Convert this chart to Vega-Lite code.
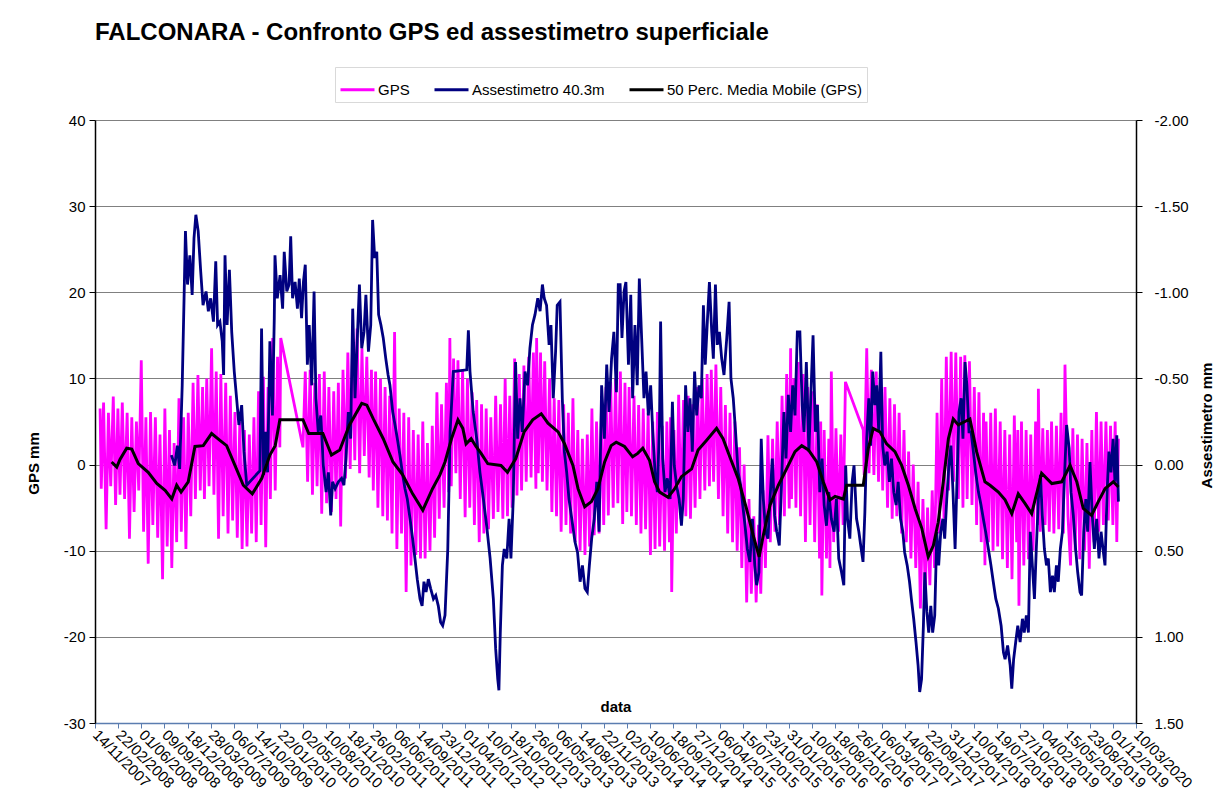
{
"$schema":"https://vega.github.io/schema/vega-lite/v6.json",
"autosize":{"type":"none"},
"width":1041,"height":603,
"padding":{"left":95,"top":120,"right":84,"bottom":82},
"background":"white",
"title":{"text":"FALCONARA  - Confronto GPS ed assestimetro superficiale","anchor":"start","frame":"group","font":"Liberation Sans","fontSize":24,"fontWeight":"bold","color":"#000","offset":22},
"datasets":{
"gps":[
{"d":"2007-12-06","v":6.5},{"d":"2007-12-11","v":-2.8},{"d":"2007-12-21","v":7.2},
{"d":"2008-01-01","v":-7.5},{"d":"2008-01-11","v":6.0},{"d":"2008-01-21","v":-2.5},
{"d":"2008-02-01","v":7.9},{"d":"2008-02-11","v":-4.7},{"d":"2008-02-21","v":6.5},
{"d":"2008-03-01","v":-3.5},{"d":"2008-03-11","v":7.2},{"d":"2008-03-21","v":-4.0},
{"d":"2008-04-01","v":6.0},{"d":"2008-04-11","v":-8.6},{"d":"2008-04-21","v":5.5},
{"d":"2008-05-01","v":-5.5},{"d":"2008-05-11","v":5.0},{"d":"2008-05-21","v":-3.0},
{"d":"2008-06-01","v":12.1},{"d":"2008-06-11","v":-7.8},{"d":"2008-06-21","v":5.5},
{"d":"2008-07-01","v":-11.5},{"d":"2008-07-11","v":6.1},{"d":"2008-07-21","v":-7.0},
{"d":"2008-08-01","v":5.5},{"d":"2008-08-11","v":-8.5},{"d":"2008-08-21","v":3.5},
{"d":"2008-09-01","v":-13.3},{"d":"2008-09-11","v":6.5},{"d":"2008-09-21","v":-9.5},
{"d":"2008-10-01","v":4.0},{"d":"2008-10-11","v":-12.0},{"d":"2008-10-21","v":2.5},
{"d":"2008-11-01","v":-9.0},{"d":"2008-11-11","v":7.7},{"d":"2008-11-21","v":-7.8},
{"d":"2008-12-01","v":5.5},{"d":"2008-12-11","v":-9.8},{"d":"2008-12-21","v":6.0},
{"d":"2009-01-01","v":-6.0},{"d":"2009-01-11","v":9.5},{"d":"2009-01-21","v":-4.0},
{"d":"2009-02-01","v":10.4},{"d":"2009-02-11","v":-3.0},{"d":"2009-02-21","v":9.0},
{"d":"2009-03-01","v":-4.0},{"d":"2009-03-11","v":10.0},{"d":"2009-03-21","v":-2.5},
{"d":"2009-04-01","v":13.5},{"d":"2009-04-11","v":-3.5},{"d":"2009-04-21","v":10.8},
{"d":"2009-05-01","v":-8.6},{"d":"2009-05-11","v":10.5},{"d":"2009-05-21","v":-6.0},
{"d":"2009-06-01","v":9.5},{"d":"2009-06-11","v":-8.0},{"d":"2009-06-21","v":8.0},
{"d":"2009-07-01","v":-6.5},{"d":"2009-07-11","v":6.1},{"d":"2009-07-21","v":-8.5},
{"d":"2009-08-01","v":5.0},{"d":"2009-08-11","v":-9.8},{"d":"2009-08-21","v":4.0},
{"d":"2009-09-01","v":-9.5},{"d":"2009-09-11","v":3.5},{"d":"2009-09-21","v":-8.0},
{"d":"2009-10-01","v":5.5},{"d":"2009-10-11","v":-9.0},{"d":"2009-10-21","v":8.5},
{"d":"2009-11-01","v":-7.0},{"d":"2009-11-11","v":10.2},{"d":"2009-11-21","v":-9.6},
{"d":"2009-12-01","v":9.0},{"d":"2009-12-11","v":-4.0},{"d":"2009-12-21","v":14.7},
{"d":"2010-01-01","v":-3.0},{"d":"2010-01-11","v":12.5},{"d":"2010-01-21","v":2.0},{"d":"2010-01-25","v":14.7},
{"d":"2010-05-01","v":2.0},{"d":"2010-05-11","v":10.8},{"d":"2010-05-21","v":-2.0},
{"d":"2010-06-01","v":11.0},{"d":"2010-06-11","v":-3.5},{"d":"2010-06-21","v":9.5},
{"d":"2010-07-01","v":-2.5},{"d":"2010-07-11","v":10.5},{"d":"2010-07-21","v":-5.7},
{"d":"2010-08-01","v":10.8},{"d":"2010-08-11","v":-4.5},{"d":"2010-08-21","v":9.0},
{"d":"2010-09-01","v":-5.5},{"d":"2010-09-11","v":8.5},{"d":"2010-09-21","v":-4.0},
{"d":"2010-10-01","v":9.5},{"d":"2010-10-11","v":-7.2},{"d":"2010-10-21","v":11.0},
{"d":"2010-11-01","v":-1.6},{"d":"2010-11-11","v":13.0},{"d":"2010-11-21","v":-0.5},
{"d":"2010-12-01","v":13.5},{"d":"2010-12-11","v":0.5},{"d":"2010-12-21","v":15.8},
{"d":"2011-01-01","v":-1.0},{"d":"2011-01-11","v":13.5},{"d":"2011-01-21","v":1.0},
{"d":"2011-02-01","v":12.5},{"d":"2011-02-11","v":-1.5},{"d":"2011-02-21","v":11.0},
{"d":"2011-03-01","v":-3.0},{"d":"2011-03-11","v":10.8},{"d":"2011-03-21","v":-5.0},
{"d":"2011-04-01","v":10.0},{"d":"2011-04-11","v":-6.0},{"d":"2011-04-21","v":9.0},
{"d":"2011-05-01","v":-6.5},{"d":"2011-05-11","v":8.0},{"d":"2011-05-21","v":-8.0},
{"d":"2011-06-01","v":15.4},{"d":"2011-06-11","v":-9.8},{"d":"2011-06-21","v":6.5},
{"d":"2011-07-01","v":-8.0},{"d":"2011-07-11","v":6.0},{"d":"2011-07-21","v":-14.8},
{"d":"2011-08-01","v":5.5},{"d":"2011-08-11","v":-11.7},{"d":"2011-08-21","v":4.0},
{"d":"2011-09-01","v":-10.5},{"d":"2011-09-11","v":3.5},{"d":"2011-09-21","v":-10.9},
{"d":"2011-10-01","v":5.0},{"d":"2011-10-11","v":-10.9},{"d":"2011-10-21","v":2.5},
{"d":"2011-11-01","v":-10.0},{"d":"2011-11-11","v":4.5},{"d":"2011-11-21","v":-8.5},
{"d":"2011-12-01","v":8.4},{"d":"2011-12-11","v":-6.3},{"d":"2011-12-21","v":7.0},
{"d":"2012-01-01","v":-5.0},{"d":"2012-01-11","v":9.5},{"d":"2012-01-21","v":-3.2},{"d":"2012-01-26","v":14.7},
{"d":"2012-02-01","v":-2.5},{"d":"2012-02-11","v":12.3},{"d":"2012-02-21","v":-1.0},
{"d":"2012-03-01","v":12.1},{"d":"2012-03-11","v":-4.0},{"d":"2012-03-21","v":11.0},
{"d":"2012-04-01","v":-6.1},{"d":"2012-04-11","v":10.0},{"d":"2012-04-21","v":-5.0},
{"d":"2012-05-01","v":8.4},{"d":"2012-05-11","v":-7.0},{"d":"2012-05-21","v":7.5},
{"d":"2012-06-01","v":-9.0},{"d":"2012-06-11","v":7.0},{"d":"2012-06-21","v":-8.0},
{"d":"2012-07-01","v":6.5},{"d":"2012-07-11","v":-7.5},{"d":"2012-07-21","v":5.5},
{"d":"2012-08-01","v":-6.3},{"d":"2012-08-11","v":8.0},{"d":"2012-08-21","v":-5.5},
{"d":"2012-09-01","v":7.0},{"d":"2012-09-11","v":-6.3},{"d":"2012-09-21","v":10.0},
{"d":"2012-10-01","v":-6.0},{"d":"2012-10-11","v":8.0},{"d":"2012-10-21","v":-5.0},
{"d":"2012-11-01","v":12.3},{"d":"2012-11-11","v":-3.6},{"d":"2012-11-21","v":10.5},
{"d":"2012-12-01","v":-3.0},{"d":"2012-12-11","v":11.5},{"d":"2012-12-21","v":-2.0},
{"d":"2013-01-01","v":12.5},{"d":"2013-01-11","v":-1.5},{"d":"2013-01-21","v":13.0},
{"d":"2013-02-01","v":-2.8},{"d":"2013-02-04","v":14.7},{"d":"2013-02-11","v":-1.0},{"d":"2013-02-21","v":13.0},
{"d":"2013-03-01","v":-2.0},{"d":"2013-03-11","v":12.0},{"d":"2013-03-21","v":-3.0},
{"d":"2013-04-01","v":10.0},{"d":"2013-04-11","v":-5.5},{"d":"2013-04-21","v":7.7},
{"d":"2013-05-01","v":-6.0},{"d":"2013-05-11","v":7.5},{"d":"2013-05-21","v":-7.8},
{"d":"2013-06-01","v":7.0},{"d":"2013-06-11","v":-7.0},{"d":"2013-06-21","v":6.0},
{"d":"2013-07-01","v":-8.0},{"d":"2013-07-11","v":7.7},{"d":"2013-07-21","v":-9.0},
{"d":"2013-08-01","v":4.0},{"d":"2013-08-11","v":-10.0},{"d":"2013-08-21","v":3.0},
{"d":"2013-09-01","v":-10.5},{"d":"2013-09-11","v":3.5},{"d":"2013-09-21","v":-9.5},
{"d":"2013-10-01","v":6.5},{"d":"2013-10-11","v":-8.2},{"d":"2013-10-21","v":5.0},
{"d":"2013-11-01","v":-8.0},{"d":"2013-11-11","v":6.0},{"d":"2013-11-21","v":-7.0},
{"d":"2013-12-01","v":9.0},{"d":"2013-12-11","v":-5.9},{"d":"2013-12-21","v":9.6},
{"d":"2014-01-01","v":-5.0},{"d":"2014-01-11","v":10.0},{"d":"2014-01-21","v":-4.5},
{"d":"2014-02-01","v":10.8},{"d":"2014-02-11","v":-6.9},{"d":"2014-02-21","v":9.5},
{"d":"2014-03-01","v":-5.5},{"d":"2014-03-11","v":9.0},{"d":"2014-03-21","v":-6.0},
{"d":"2014-04-01","v":8.0},{"d":"2014-04-11","v":-7.0},{"d":"2014-04-21","v":6.9},
{"d":"2014-05-01","v":-8.0},{"d":"2014-05-11","v":6.5},{"d":"2014-05-21","v":-7.5},
{"d":"2014-06-01","v":6.0},{"d":"2014-06-11","v":-10.5},{"d":"2014-06-21","v":5.0},
{"d":"2014-07-01","v":-9.8},{"d":"2014-07-11","v":6.1},{"d":"2014-07-21","v":-9.5},
{"d":"2014-08-01","v":4.5},{"d":"2014-08-11","v":-10.0},{"d":"2014-08-21","v":5.0},
{"d":"2014-09-01","v":-9.0},{"d":"2014-09-06","v":5.5},{"d":"2014-09-11","v":-14.8},{"d":"2014-09-21","v":4.0},
{"d":"2014-10-01","v":-8.0},{"d":"2014-10-11","v":8.1},{"d":"2014-10-21","v":-6.3},
{"d":"2014-11-01","v":7.5},{"d":"2014-11-11","v":-6.0},{"d":"2014-11-21","v":8.0},
{"d":"2014-12-01","v":-6.3},{"d":"2014-12-11","v":7.0},{"d":"2014-12-21","v":-5.0},
{"d":"2015-01-01","v":9.0},{"d":"2015-01-11","v":-4.0},{"d":"2015-01-21","v":10.0},
{"d":"2015-02-01","v":-3.0},{"d":"2015-02-11","v":10.5},{"d":"2015-02-21","v":-2.5},
{"d":"2015-03-01","v":11.0},{"d":"2015-03-11","v":-2.0},{"d":"2015-03-21","v":11.6},
{"d":"2015-04-01","v":-4.0},{"d":"2015-04-11","v":9.0},{"d":"2015-04-21","v":-6.0},
{"d":"2015-05-01","v":6.9},{"d":"2015-05-11","v":-8.0},{"d":"2015-05-21","v":6.0},
{"d":"2015-06-01","v":-9.0},{"d":"2015-06-11","v":5.0},{"d":"2015-06-21","v":-10.0},
{"d":"2015-07-01","v":2.0},{"d":"2015-07-11","v":-12.0},{"d":"2015-07-21","v":0.0},
{"d":"2015-08-01","v":-16.0},{"d":"2015-08-11","v":-4.0},{"d":"2015-08-21","v":-15.0},
{"d":"2015-09-01","v":-6.0},{"d":"2015-09-11","v":-16.0},{"d":"2015-09-21","v":-7.0},
{"d":"2015-10-01","v":-15.0},{"d":"2015-10-11","v":-3.0},{"d":"2015-10-21","v":-12.0},
{"d":"2015-11-01","v":3.4},{"d":"2015-11-11","v":-9.0},{"d":"2015-11-21","v":3.0},
{"d":"2015-12-01","v":-7.8},{"d":"2015-12-11","v":5.0},{"d":"2015-12-21","v":-7.0},
{"d":"2016-01-01","v":8.0},{"d":"2016-01-11","v":-6.0},{"d":"2016-01-21","v":10.5},
{"d":"2016-02-01","v":-5.1},{"d":"2016-02-07","v":13.5},{"d":"2016-02-11","v":-4.0},{"d":"2016-02-21","v":10.0},
{"d":"2016-03-01","v":-5.0},{"d":"2016-03-11","v":11.9},{"d":"2016-03-21","v":-6.0},
{"d":"2016-04-01","v":10.5},{"d":"2016-04-11","v":-9.0},{"d":"2016-04-21","v":9.0},
{"d":"2016-05-01","v":-7.0},{"d":"2016-05-11","v":8.5},{"d":"2016-05-21","v":-9.0},
{"d":"2016-06-01","v":7.0},{"d":"2016-06-11","v":-10.9},{"d":"2016-06-16","v":5.0},{"d":"2016-06-21","v":-15.2},
{"d":"2016-07-01","v":4.0},{"d":"2016-07-11","v":-10.9},{"d":"2016-07-21","v":3.0},{"d":"2016-07-26","v":-12.0},
{"d":"2016-08-01","v":10.8},{"d":"2016-08-11","v":-9.0},{"d":"2016-08-21","v":4.2},
{"d":"2016-09-01","v":-7.8},{"d":"2016-09-11","v":3.5},{"d":"2016-09-21","v":-7.0},
{"d":"2016-10-01","v":9.6},{"d":"2016-12-17","v":4.0},{"d":"2016-12-21","v":-1.2},
{"d":"2017-01-01","v":13.5},{"d":"2017-01-11","v":-1.0},{"d":"2017-01-21","v":11.0},
{"d":"2017-02-01","v":-1.2},{"d":"2017-02-11","v":10.8},{"d":"2017-02-21","v":-2.0},
{"d":"2017-03-01","v":10.0},{"d":"2017-03-11","v":-3.0},{"d":"2017-03-21","v":9.0},
{"d":"2017-04-01","v":-5.0},{"d":"2017-04-11","v":7.7},{"d":"2017-04-21","v":-6.3},
{"d":"2017-05-01","v":7.0},{"d":"2017-05-11","v":-6.0},{"d":"2017-05-21","v":6.0},
{"d":"2017-06-01","v":-8.0},{"d":"2017-06-11","v":4.0},{"d":"2017-06-21","v":-9.0},
{"d":"2017-07-01","v":1.5},{"d":"2017-07-11","v":-10.9},{"d":"2017-07-21","v":0.0},
{"d":"2017-08-01","v":-12.0},{"d":"2017-08-11","v":-2.0},{"d":"2017-08-21","v":-16.7},
{"d":"2017-09-01","v":-4.0},{"d":"2017-09-11","v":-15.0},{"d":"2017-09-21","v":-5.0},
{"d":"2017-10-01","v":-14.0},{"d":"2017-10-11","v":-3.0},{"d":"2017-10-21","v":-12.0},
{"d":"2017-11-01","v":6.0},{"d":"2017-11-11","v":-8.0},{"d":"2017-11-21","v":10.0},
{"d":"2017-12-01","v":-6.3},{"d":"2017-12-11","v":12.5},{"d":"2017-12-21","v":-3.0},
{"d":"2018-01-01","v":13.1},{"d":"2018-01-11","v":-2.0},{"d":"2018-01-21","v":13.0},
{"d":"2018-02-01","v":-4.0},{"d":"2018-02-11","v":12.5},{"d":"2018-02-21","v":-5.0},
{"d":"2018-03-01","v":12.7},{"d":"2018-03-11","v":-4.0},{"d":"2018-03-21","v":12.0},
{"d":"2018-04-01","v":-4.7},{"d":"2018-04-11","v":9.0},{"d":"2018-04-21","v":-7.0},
{"d":"2018-05-01","v":8.4},{"d":"2018-05-11","v":-9.0},{"d":"2018-05-21","v":6.0},{"d":"2018-05-27","v":-11.7},
{"d":"2018-06-01","v":5.0},{"d":"2018-06-11","v":-9.0},{"d":"2018-06-21","v":6.0},
{"d":"2018-07-01","v":-10.0},{"d":"2018-07-11","v":6.5},{"d":"2018-07-21","v":-9.5},
{"d":"2018-08-01","v":5.0},{"d":"2018-08-11","v":-11.0},{"d":"2018-08-21","v":4.0},
{"d":"2018-09-01","v":-12.0},{"d":"2018-09-11","v":3.5},{"d":"2018-09-21","v":-13.3},
{"d":"2018-10-01","v":5.7},{"d":"2018-10-11","v":-9.0},{"d":"2018-10-16","v":4.0},{"d":"2018-10-21","v":-16.4},
{"d":"2018-11-01","v":5.0},{"d":"2018-11-11","v":-11.7},{"d":"2018-11-21","v":4.0},
{"d":"2018-12-01","v":-11.0},{"d":"2018-12-11","v":3.5},{"d":"2018-12-21","v":-10.0},
{"d":"2019-01-01","v":5.0},{"d":"2019-01-11","v":-7.0},{"d":"2019-01-13","v":8.8},{"d":"2019-01-21","v":-7.8},
{"d":"2019-02-01","v":4.2},{"d":"2019-02-11","v":-7.0},{"d":"2019-02-21","v":4.0},
{"d":"2019-03-01","v":-7.8},{"d":"2019-03-11","v":5.0},{"d":"2019-03-21","v":-8.0},
{"d":"2019-04-01","v":4.5},{"d":"2019-04-11","v":-7.5},{"d":"2019-04-21","v":6.0},
{"d":"2019-05-01","v":-8.0},{"d":"2019-05-08","v":11.6},{"d":"2019-05-21","v":-6.0},
{"d":"2019-06-01","v":-11.7},{"d":"2019-06-11","v":4.2},{"d":"2019-06-21","v":-10.0},
{"d":"2019-07-01","v":3.5},{"d":"2019-07-11","v":-11.0},{"d":"2019-07-21","v":3.0},
{"d":"2019-08-01","v":-10.0},{"d":"2019-08-11","v":2.5},{"d":"2019-08-21","v":-12.1},
{"d":"2019-09-01","v":4.0},{"d":"2019-09-11","v":-9.0},{"d":"2019-09-21","v":6.1},
{"d":"2019-10-01","v":-7.8},{"d":"2019-10-11","v":5.0},{"d":"2019-10-21","v":-7.0},
{"d":"2019-11-01","v":5.0},{"d":"2019-11-11","v":-6.5},{"d":"2019-11-21","v":4.5},
{"d":"2019-12-01","v":-7.0},{"d":"2019-12-11","v":5.0},{"d":"2019-12-18","v":-9.0},{"d":"2019-12-25","v":3.0}
],
"ass":[
{"d":"2008-10-09","a":-0.055},{"d":"2008-10-24","a":0.005},{"d":"2008-11-04","a":-0.110},{"d":"2008-11-14","a":0.025},{"d":"2008-11-25","a":-0.460},
{"d":"2008-12-03","a":-0.965},{"d":"2008-12-09","a":-1.355},{"d":"2008-12-18","a":-1.045},{"d":"2008-12-28","a":-1.215},
{"d":"2009-01-07","a":-0.985},{"d":"2009-01-15","a":-1.315},{"d":"2009-01-23","a":-1.450},{"d":"2009-02-02","a":-1.355},{"d":"2009-02-13","a":-1.120},{"d":"2009-02-23","a":-0.925},
{"d":"2009-03-08","a":-1.005},{"d":"2009-03-18","a":-0.890},{"d":"2009-03-28","a":-0.965},{"d":"2009-04-09","a":-0.830},{"d":"2009-04-19","a":-1.180},{"d":"2009-04-27","a":-0.810},
{"d":"2009-05-07","a":-0.830},{"d":"2009-05-17","a":-0.715},{"d":"2009-05-23","a":-0.520},{"d":"2009-05-29","a":-1.215},{"d":"2009-06-07","a":-0.810},{"d":"2009-06-17","a":-1.130},{"d":"2009-06-27","a":-0.770},
{"d":"2009-07-08","a":-0.540},{"d":"2009-07-18","a":-0.385},{"d":"2009-07-28","a":-0.230},{"d":"2009-08-09","a":-0.345},{"d":"2009-08-19","a":-0.075},{"d":"2009-08-31","a":0.120},
{"d":"2009-10-27","a":0.035},{"d":"2009-11-03","a":-0.790},{"d":"2009-11-12","a":0.060},{"d":"2009-11-21","a":-0.190},{"d":"2009-11-29","a":0.045},{"d":"2009-12-09","a":-0.715},{"d":"2009-12-20","a":-0.285},{"d":"2009-12-28","a":-0.850},
{"d":"2009-12-31","a":-1.215},{"d":"2010-01-10","a":-0.965},{"d":"2010-01-22","a":-1.100},{"d":"2010-02-02","a":-0.905},{"d":"2010-02-09","a":-1.235},{"d":"2010-02-20","a":-1.005},
{"d":"2010-03-02","a":-1.045},{"d":"2010-03-09","a":-1.325},{"d":"2010-03-17","a":-0.965},{"d":"2010-03-28","a":-1.060},{"d":"2010-04-07","a":-0.905},{"d":"2010-04-15","a":-1.080},{"d":"2010-04-25","a":-0.850},
{"d":"2010-05-03","a":-1.060},{"d":"2010-05-11","a":-1.160},{"d":"2010-05-20","a":-0.580},{"d":"2010-05-28","a":-0.810},{"d":"2010-06-08","a":-0.460},{"d":"2010-06-18","a":-1.005},{"d":"2010-06-26","a":-0.385},
{"d":"2010-07-06","a":-0.190},{"d":"2010-07-17","a":-0.285},{"d":"2010-07-28","a":0.005},{"d":"2010-08-09","a":0.160},{"d":"2010-08-19","a":0.045},{"d":"2010-08-29","a":0.295},
{"d":"2010-09-06","a":0.100},{"d":"2010-09-17","a":0.140},{"d":"2010-10-01","a":0.100},{"d":"2010-10-15","a":0.080},{"d":"2010-10-25","a":0.120},
{"d":"2010-11-03","a":-0.035},{"d":"2010-11-13","a":-0.305},{"d":"2010-11-23","a":-0.150},{"d":"2010-12-02","a":-0.905},{"d":"2010-12-12","a":-0.385},{"d":"2010-12-22","a":-0.735},{"d":"2010-12-31","a":-1.045},
{"d":"2011-01-10","a":-0.675},{"d":"2011-01-20","a":-0.770},{"d":"2011-01-28","a":-0.985},{"d":"2011-02-08","a":-0.655},{"d":"2011-02-18","a":-0.810},{"d":"2011-02-26","a":-1.420},
{"d":"2011-03-07","a":-1.200},{"d":"2011-03-16","a":-1.235},{"d":"2011-03-24","a":-0.870},{"d":"2011-04-03","a":-0.810},{"d":"2011-04-13","a":-0.735},{"d":"2011-04-24","a":-0.615},
{"d":"2011-05-04","a":-0.520},{"d":"2011-05-12","a":-0.460},{"d":"2011-05-24","a":-0.305},{"d":"2011-06-03","a":-0.230},{"d":"2011-06-13","a":-0.150},{"d":"2011-06-24","a":-0.055},
{"d":"2011-07-06","a":0.060},{"d":"2011-07-16","a":0.140},{"d":"2011-07-26","a":0.200},{"d":"2011-08-07","a":0.315},{"d":"2011-08-18","a":0.430},{"d":"2011-08-28","a":0.545},
{"d":"2011-09-07","a":0.665},{"d":"2011-09-19","a":0.780},{"d":"2011-09-28","a":0.820},{"d":"2011-10-06","a":0.680},{"d":"2011-10-15","a":0.740},{"d":"2011-10-25","a":0.665},
{"d":"2011-11-04","a":0.720},{"d":"2011-11-16","a":0.780},{"d":"2011-11-26","a":0.760},{"d":"2011-12-07","a":0.820},{"d":"2011-12-17","a":0.915},{"d":"2011-12-26","a":0.935},
{"d":"2012-01-05","a":0.875},{"d":"2012-01-17","a":0.490},{"d":"2012-01-27","a":-0.190},{"d":"2012-02-10","a":-0.540},{"d":"2012-04-08","a":-0.550},{"d":"2012-04-15","a":-0.780},{"d":"2012-04-22","a":-0.540},
{"d":"2012-05-06","a":-0.305},{"d":"2012-05-21","a":-0.150},{"d":"2012-06-04","a":0.045},{"d":"2012-06-19","a":0.200},{"d":"2012-07-03","a":0.355},{"d":"2012-07-18","a":0.545},
{"d":"2012-08-01","a":0.780},{"d":"2012-08-11","a":1.070},{"d":"2012-08-20","a":1.245},{"d":"2012-08-25","a":1.310},{"d":"2012-08-31","a":0.975},
{"d":"2012-09-09","a":0.585},{"d":"2012-09-17","a":0.490},{"d":"2012-09-28","a":0.545},{"d":"2012-10-08","a":0.315},{"d":"2012-10-16","a":0.545},{"d":"2012-10-26","a":0.200},
{"d":"2012-11-05","a":-0.595},{"d":"2012-11-14","a":-0.150},{"d":"2012-11-24","a":-0.385},{"d":"2012-12-04","a":-0.190},{"d":"2012-12-16","a":-0.540},{"d":"2012-12-27","a":-0.460},
{"d":"2013-01-06","a":-0.675},{"d":"2013-01-17","a":-0.810},{"d":"2013-01-28","a":-0.870},{"d":"2013-02-09","a":-0.965},{"d":"2013-02-19","a":-0.890},
{"d":"2013-03-01","a":-1.045},{"d":"2013-03-09","a":-0.965},{"d":"2013-03-19","a":-0.925},{"d":"2013-03-30","a":-0.695},{"d":"2013-04-07","a":-0.810},{"d":"2013-04-17","a":-0.385},{"d":"2013-04-27","a":-0.655},
{"d":"2013-05-04","a":-0.925},{"d":"2013-05-16","a":-0.945},{"d":"2013-05-26","a":-0.385},{"d":"2013-06-04","a":-0.075},{"d":"2013-06-14","a":0.045},{"d":"2013-06-24","a":0.200},
{"d":"2013-07-06","a":0.315},{"d":"2013-07-20","a":0.450},{"d":"2013-07-31","a":0.510},{"d":"2013-08-11","a":0.680},{"d":"2013-08-21","a":0.585},
{"d":"2013-09-01","a":0.720},{"d":"2013-09-11","a":0.740},{"d":"2013-09-20","a":0.585},{"d":"2013-09-30","a":0.430},{"d":"2013-10-11","a":0.315},{"d":"2013-10-22","a":0.100},
{"d":"2013-11-01","a":0.390},{"d":"2013-11-12","a":-0.460},{"d":"2013-11-24","a":-0.150},{"d":"2013-12-04","a":-0.580},{"d":"2013-12-14","a":-0.305},{"d":"2013-12-25","a":-0.615},
{"d":"2014-01-04","a":-0.770},{"d":"2014-01-15","a":-0.420},{"d":"2014-01-23","a":-1.045},{"d":"2014-01-31","a":-1.045},
{"d":"2014-02-08","a":-0.735},{"d":"2014-02-17","a":-1.005},{"d":"2014-02-25","a":-1.060},{"d":"2014-03-08","a":-0.580},{"d":"2014-03-18","a":-0.985},{"d":"2014-03-26","a":-0.385},
{"d":"2014-04-05","a":-0.810},{"d":"2014-04-15","a":-0.460},{"d":"2014-04-24","a":-1.080},{"d":"2014-05-04","a":-0.735},{"d":"2014-05-14","a":-0.385},{"d":"2014-05-23","a":-0.540},
{"d":"2014-06-02","a":-0.285},{"d":"2014-06-12","a":-0.460},{"d":"2014-06-21","a":-0.190},{"d":"2014-07-01","a":0.045},{"d":"2014-07-11","a":0.160},{"d":"2014-07-20","a":-0.230},{"d":"2014-07-25","a":-0.830},
{"d":"2014-08-03","a":-0.035},{"d":"2014-08-13","a":0.160},{"d":"2014-08-23","a":0.080},{"d":"2014-09-04","a":0.200},{"d":"2014-09-14","a":-0.365},{"d":"2014-09-22","a":0.005},
{"d":"2014-10-02","a":0.120},{"d":"2014-10-13","a":0.200},{"d":"2014-10-23","a":0.355},{"d":"2014-10-31","a":0.200},{"d":"2014-11-10","a":-0.460},{"d":"2014-11-20","a":-0.190},{"d":"2014-11-29","a":-0.385},
{"d":"2014-12-09","a":-0.075},{"d":"2014-12-19","a":-0.540},{"d":"2014-12-28","a":-0.285},
{"d":"2015-01-07","a":-0.460},{"d":"2015-01-17","a":-0.385},{"d":"2015-01-26","a":-0.925},{"d":"2015-02-03","a":-0.580},{"d":"2015-02-12","a":-0.830},{"d":"2015-02-21","a":-1.060},
{"d":"2015-03-03","a":-0.770},{"d":"2015-03-10","a":-0.615},{"d":"2015-03-19","a":-1.045},{"d":"2015-03-27","a":-0.695},{"d":"2015-04-05","a":-0.770},{"d":"2015-04-15","a":-0.615},{"d":"2015-04-25","a":-0.520},
{"d":"2015-05-07","a":-0.735},{"d":"2015-05-17","a":-0.945},{"d":"2015-05-25","a":-0.500},{"d":"2015-06-04","a":-0.385},{"d":"2015-06-14","a":-0.190},{"d":"2015-06-25","a":0.045},
{"d":"2015-07-06","a":0.120},{"d":"2015-07-15","a":0.235},{"d":"2015-07-25","a":0.355},{"d":"2015-08-04","a":0.490},{"d":"2015-08-15","a":0.565},{"d":"2015-08-26","a":0.315},
{"d":"2015-09-05","a":0.585},{"d":"2015-09-13","a":0.700},{"d":"2015-09-23","a":0.625},{"d":"2015-10-03","a":-0.150},{"d":"2015-10-12","a":0.200},{"d":"2015-10-22","a":0.390},
{"d":"2015-11-01","a":0.430},{"d":"2015-11-10","a":0.200},{"d":"2015-11-20","a":-0.035},{"d":"2015-11-30","a":0.295},{"d":"2015-12-09","a":0.390},{"d":"2015-12-20","a":0.470},{"d":"2015-12-30","a":0.100},
{"d":"2016-01-09","a":-0.305},{"d":"2016-01-18","a":-0.035},{"d":"2016-01-28","a":-0.405},{"d":"2016-02-07","a":-0.190},{"d":"2016-02-16","a":-0.460},{"d":"2016-02-26","a":-0.285},{"d":"2016-03-07","a":-0.770},
{"d":"2016-03-18","a":-0.770},{"d":"2016-03-28","a":-0.345},{"d":"2016-04-05","a":-0.190},{"d":"2016-04-15","a":-0.595},{"d":"2016-04-26","a":-0.075},
{"d":"2016-05-04","a":-0.385},{"d":"2016-05-14","a":-0.750},{"d":"2016-05-24","a":-0.190},{"d":"2016-06-02","a":-0.345},{"d":"2016-06-12","a":0.160},{"d":"2016-06-22","a":-0.035},
{"d":"2016-07-01","a":0.235},{"d":"2016-07-11","a":0.355},{"d":"2016-07-21","a":0.160},{"d":"2016-08-01","a":0.315},{"d":"2016-08-13","a":0.390},{"d":"2016-08-23","a":0.200},
{"d":"2016-09-02","a":0.545},{"d":"2016-09-14","a":0.625},{"d":"2016-09-24","a":0.700},{"d":"2016-10-02","a":0.005},{"d":"2016-10-10","a":0.315},{"d":"2016-10-20","a":0.430},{"d":"2016-10-30","a":0.100},
{"d":"2016-11-07","a":0.005},{"d":"2016-11-18","a":0.315},{"d":"2016-11-28","a":0.390},{"d":"2016-12-06","a":0.470},{"d":"2016-12-16","a":0.565},{"d":"2016-12-24","a":0.275},
{"d":"2017-01-01","a":-0.150},{"d":"2017-01-10","a":-0.385},{"d":"2017-01-18","a":-0.110},{"d":"2017-01-27","a":-0.540},{"d":"2017-02-05","a":-0.345},{"d":"2017-02-13","a":-0.460},{"d":"2017-02-22","a":-0.190},
{"d":"2017-03-03","a":-0.655},{"d":"2017-03-11","a":-0.110},{"d":"2017-03-20","a":0.005},{"d":"2017-03-30","a":-0.075},{"d":"2017-04-09","a":0.100},{"d":"2017-04-18","a":-0.035},{"d":"2017-04-28","a":0.160},
{"d":"2017-05-08","a":0.235},{"d":"2017-05-17","a":0.100},{"d":"2017-05-27","a":0.315},{"d":"2017-06-06","a":0.390},{"d":"2017-06-14","a":0.510},{"d":"2017-06-25","a":0.585},
{"d":"2017-07-05","a":0.680},{"d":"2017-07-13","a":0.780},{"d":"2017-07-23","a":0.895},{"d":"2017-08-02","a":1.030},{"d":"2017-08-11","a":1.165},{"d":"2017-08-18","a":1.320},{"d":"2017-08-26","a":1.245},
{"d":"2017-09-03","a":0.935},{"d":"2017-09-09","a":0.625},{"d":"2017-09-18","a":0.855},{"d":"2017-09-26","a":0.975},{"d":"2017-10-05","a":0.820},{"d":"2017-10-13","a":0.975},{"d":"2017-10-22","a":0.875},
{"d":"2017-10-31","a":0.390},{"d":"2017-11-08","a":0.585},{"d":"2017-11-17","a":0.390},{"d":"2017-11-26","a":0.315},{"d":"2017-12-04","a":0.430},{"d":"2017-12-13","a":0.200},{"d":"2017-12-22","a":0.005},{"d":"2017-12-31","a":-0.110},
{"d":"2018-01-09","a":0.160},{"d":"2018-01-18","a":0.490},{"d":"2018-01-26","a":0.100},{"d":"2018-02-04","a":-0.305},{"d":"2018-02-13","a":-0.385},{"d":"2018-02-21","a":-0.150},
{"d":"2018-03-02","a":-0.595},{"d":"2018-03-10","a":-0.460},{"d":"2018-03-19","a":-0.190},{"d":"2018-03-28","a":-0.190},{"d":"2018-04-07","a":-0.075},{"d":"2018-04-17","a":0.045},{"d":"2018-04-29","a":0.160},
{"d":"2018-05-10","a":0.235},{"d":"2018-05-20","a":0.315},{"d":"2018-05-30","a":0.390},{"d":"2018-06-11","a":0.490},{"d":"2018-06-22","a":0.585},{"d":"2018-07-02","a":0.680},{"d":"2018-07-13","a":0.780},{"d":"2018-07-24","a":0.835},
{"d":"2018-08-05","a":0.935},{"d":"2018-08-15","a":1.090},{"d":"2018-08-22","a":1.130},{"d":"2018-09-02","a":1.050},{"d":"2018-09-13","a":1.165},{"d":"2018-09-20","a":1.300},{"d":"2018-09-28","a":1.130},
{"d":"2018-10-07","a":1.030},{"d":"2018-10-16","a":0.935},{"d":"2018-10-26","a":1.030},{"d":"2018-11-05","a":0.895},{"d":"2018-11-13","a":0.975},{"d":"2018-11-22","a":0.875},
{"d":"2018-12-01","a":0.975},{"d":"2018-12-09","a":0.390},{"d":"2018-12-18","a":0.585},{"d":"2018-12-27","a":0.780},
{"d":"2019-01-04","a":0.490},{"d":"2019-01-13","a":0.200},{"d":"2019-01-22","a":0.060},{"d":"2019-01-30","a":0.295},{"d":"2019-02-08","a":0.490},{"d":"2019-02-17","a":0.585},{"d":"2019-02-25","a":0.545},
{"d":"2019-03-06","a":0.740},{"d":"2019-03-15","a":0.645},{"d":"2019-03-23","a":0.740},{"d":"2019-04-01","a":0.585},{"d":"2019-04-09","a":0.680},{"d":"2019-04-18","a":0.490},{"d":"2019-04-27","a":0.390},
{"d":"2019-05-05","a":0.100},{"d":"2019-05-15","a":-0.230},{"d":"2019-05-26","a":-0.095},{"d":"2019-06-03","a":0.160},{"d":"2019-06-13","a":0.295},{"d":"2019-06-23","a":0.490},
{"d":"2019-07-02","a":0.625},{"d":"2019-07-12","a":0.740},{"d":"2019-07-19","a":0.760},{"d":"2019-07-28","a":0.390},{"d":"2019-08-06","a":0.200},{"d":"2019-08-14","a":0.390},{"d":"2019-08-24","a":-0.015},
{"d":"2019-09-03","a":0.295},{"d":"2019-09-12","a":0.490},{"d":"2019-09-22","a":0.315},{"d":"2019-10-02","a":0.545},{"d":"2019-10-11","a":0.390},{"d":"2019-10-21","a":0.510},{"d":"2019-10-28","a":0.585},
{"d":"2019-11-06","a":0.160},{"d":"2019-11-14","a":-0.075},{"d":"2019-11-23","a":0.045},{"d":"2019-12-02","a":-0.150},{"d":"2019-12-10","a":0.100},{"d":"2019-12-18","a":-0.170},{"d":"2019-12-25","a":0.215}
],
"ma":[
{"d":"2008-01-25","v":0.3},{"d":"2008-02-16","v":-0.3},{"d":"2008-03-01","v":0.6},{"d":"2008-03-30","v":1.9},{"d":"2008-04-21","v":1.8},{"d":"2008-05-19","v":0.1},
{"d":"2008-07-01","v":-0.9},{"d":"2008-08-07","v":-2.2},{"d":"2008-09-12","v":-3.0},{"d":"2008-10-11","v":-4.0},{"d":"2008-11-01","v":-2.4},{"d":"2008-11-20","v":-3.2},{"d":"2008-12-21","v":-2.0},
{"d":"2009-01-19","v":2.1},{"d":"2009-02-24","v":2.2},{"d":"2009-04-01","v":3.6},{"d":"2009-05-07","v":2.8},{"d":"2009-06-05","v":2.2},{"d":"2009-07-11","v":-0.1},{"d":"2009-08-16","v":-2.4},
{"d":"2009-09-24","v":-3.4},{"d":"2009-11-04","v":-1.6},{"d":"2009-12-09","v":1.1},{"d":"2010-01-01","v":2.2},{"d":"2010-01-21","v":5.2},{"d":"2010-05-01","v":5.2},{"d":"2010-05-26","v":3.6},
{"d":"2010-07-26","v":3.6},{"d":"2010-09-01","v":1.1},{"d":"2010-10-07","v":1.7},{"d":"2010-11-18","v":4.6},{"d":"2011-01-10","v":7.1},{"d":"2011-02-01","v":6.9},{"d":"2011-03-01","v":5.3},
{"d":"2011-04-13","v":3.0},{"d":"2011-05-25","v":0.3},{"d":"2011-07-06","v":-1.2},{"d":"2011-08-18","v":-3.4},{"d":"2011-10-01","v":-5.3},{"d":"2011-11-12","v":-2.8},{"d":"2011-12-14","v":-1.2},
{"d":"2012-01-05","v":0.3},{"d":"2012-02-02","v":3.0},{"d":"2012-03-01","v":5.2},{"d":"2012-03-22","v":4.2},{"d":"2012-04-05","v":2.4},{"d":"2012-04-27","v":3.0},{"d":"2012-05-18","v":2.1},
{"d":"2012-06-09","v":1.3},{"d":"2012-07-08","v":0.1},{"d":"2012-09-03","v":-0.1},{"d":"2012-10-01","v":-0.9},{"d":"2012-11-06","v":0.7},{"d":"2012-12-12","v":3.8},{"d":"2013-01-18","v":5.2},
{"d":"2013-02-24","v":5.9},{"d":"2013-03-25","v":4.8},{"d":"2013-05-08","v":3.8},{"d":"2013-06-05","v":2.4},{"d":"2013-07-11","v":-0.1},{"d":"2013-08-02","v":-2.8},{"d":"2013-08-31","v":-4.9},
{"d":"2013-09-29","v":-4.3},{"d":"2013-10-27","v":-2.8},{"d":"2013-11-25","v":0.3},{"d":"2013-12-23","v":2.2},{"d":"2014-01-14","v":2.6},{"d":"2014-02-19","v":2.1},{"d":"2014-03-26","v":0.9},
{"d":"2014-04-17","v":1.3},{"d":"2014-05-09","v":1.9},{"d":"2014-06-07","v":0.5},{"d":"2014-06-29","v":-2.0},{"d":"2014-07-21","v":-3.2},{"d":"2014-08-26","v":-3.8},{"d":"2014-09-24","v":-2.8},
{"d":"2014-10-23","v":-1.4},{"d":"2014-12-06","v":-0.5},{"d":"2015-01-03","v":1.7},{"d":"2015-02-08","v":2.8},{"d":"2015-03-24","v":4.2},{"d":"2015-04-21","v":3.0},{"d":"2015-05-20","v":0.9},
{"d":"2015-06-25","v":-1.6},{"d":"2015-07-31","v":-5.1},{"d":"2015-08-29","v":-8.2},{"d":"2015-09-24","v":-10.7},{"d":"2015-10-12","v":-8.2},{"d":"2015-11-10","v":-4.7},{"d":"2015-12-16","v":-2.4},
{"d":"2016-01-13","v":-0.9},{"d":"2016-02-11","v":0.7},{"d":"2016-02-26","v":1.5},{"d":"2016-03-26","v":2.2},{"d":"2016-04-24","v":1.7},{"d":"2016-05-30","v":0.3},{"d":"2016-06-27","v":-2.0},
{"d":"2016-07-26","v":-4.1},{"d":"2016-08-17","v":-3.7},{"d":"2016-09-22","v":-4.0},{"d":"2016-10-06","v":-2.4},{"d":"2016-12-17","v":-2.4},{"d":"2017-01-08","v":1.9},{"d":"2017-01-29","v":4.2},
{"d":"2017-02-27","v":3.8},{"d":"2017-03-28","v":2.4},{"d":"2017-05-03","v":1.5},{"d":"2017-06-01","v":-0.1},{"d":"2017-06-30","v":-2.4},{"d":"2017-07-29","v":-5.1},{"d":"2017-08-27","v":-7.4},
{"d":"2017-09-24","v":-10.7},{"d":"2017-10-16","v":-9.4},{"d":"2017-11-06","v":-6.7},{"d":"2017-11-28","v":-2.0},{"d":"2017-12-20","v":3.0},{"d":"2018-01-10","v":5.3},{"d":"2018-02-01","v":4.6},
{"d":"2018-03-02","v":5.0},{"d":"2018-03-23","v":5.3},{"d":"2018-04-21","v":1.5},{"d":"2018-05-27","v":-2.0},{"d":"2018-06-18","v":-2.4},{"d":"2018-07-24","v":-3.2},{"d":"2018-08-22","v":-4.1},
{"d":"2018-09-20","v":-5.7},{"d":"2018-10-18","v":-3.4},{"d":"2018-11-16","v":-4.5},{"d":"2018-12-15","v":-5.7},{"d":"2019-01-27","v":-1.0},{"d":"2019-03-12","v":-2.2},{"d":"2019-04-24","v":-2.0},
{"d":"2019-05-30","v":-0.1},{"d":"2019-06-28","v":-2.0},{"d":"2019-07-26","v":-5.1},{"d":"2019-08-31","v":-5.9},{"d":"2019-09-29","v":-4.3},{"d":"2019-10-28","v":-2.8},{"d":"2019-12-03","v":-2.0},{"d":"2019-12-25","v":-2.6}
]
},
"encoding":{
"x":{"field":"d","type":"temporal",
"scale":{"type":"utc","domain":[{"year":2007,"month":11,"date":14,"utc":true},{"year":2020,"month":3,"date":10,"utc":true}]},
"axis":{
"values":[{"year":2007,"month":11,"date":14,"utc":true},{"year":2008,"month":2,"date":22,"utc":true},{"year":2008,"month":6,"date":1,"utc":true},{"year":2008,"month":9,"date":9,"utc":true},{"year":2008,"month":12,"date":18,"utc":true},{"year":2009,"month":3,"date":28,"utc":true},{"year":2009,"month":7,"date":6,"utc":true},{"year":2009,"month":10,"date":14,"utc":true},{"year":2010,"month":1,"date":22,"utc":true},{"year":2010,"month":5,"date":2,"utc":true},{"year":2010,"month":8,"date":10,"utc":true},{"year":2010,"month":11,"date":18,"utc":true},{"year":2011,"month":2,"date":26,"utc":true},{"year":2011,"month":6,"date":6,"utc":true},{"year":2011,"month":9,"date":14,"utc":true},{"year":2011,"month":12,"date":23,"utc":true},{"year":2012,"month":4,"date":1,"utc":true},{"year":2012,"month":7,"date":10,"utc":true},{"year":2012,"month":10,"date":18,"utc":true},{"year":2013,"month":1,"date":26,"utc":true},{"year":2013,"month":5,"date":6,"utc":true},{"year":2013,"month":8,"date":14,"utc":true},{"year":2013,"month":11,"date":22,"utc":true},{"year":2014,"month":3,"date":2,"utc":true},{"year":2014,"month":6,"date":10,"utc":true},{"year":2014,"month":9,"date":18,"utc":true},{"year":2014,"month":12,"date":27,"utc":true},{"year":2015,"month":4,"date":6,"utc":true},{"year":2015,"month":7,"date":15,"utc":true},{"year":2015,"month":10,"date":23,"utc":true},{"year":2016,"month":1,"date":31,"utc":true},{"year":2016,"month":5,"date":10,"utc":true},{"year":2016,"month":8,"date":18,"utc":true},{"year":2016,"month":11,"date":26,"utc":true},{"year":2017,"month":3,"date":6,"utc":true},{"year":2017,"month":6,"date":14,"utc":true},{"year":2017,"month":9,"date":22,"utc":true},{"year":2017,"month":12,"date":31,"utc":true},{"year":2018,"month":4,"date":10,"utc":true},{"year":2018,"month":7,"date":19,"utc":true},{"year":2018,"month":10,"date":27,"utc":true},{"year":2019,"month":2,"date":4,"utc":true},{"year":2019,"month":5,"date":15,"utc":true},{"year":2019,"month":8,"date":23,"utc":true},{"year":2019,"month":12,"date":1,"utc":true},{"year":2020,"month":3,"date":10,"utc":true}],
"labelExpr":"utcFormat(datum.value, '%d/%m/%Y')",
"labelAngle":45,"labelAlign":"left","labelBaseline":"middle","labelFlush":false,"labelOverlap":false,"labelPadding":4,
"labelFont":"Liberation Sans","labelFontSize":15,"labelColor":"#000",
"domainColor":"#5b7db0","domainWidth":1.5,"tickColor":"#5b7db0","tickSize":5,"grid":false,
"title":"data","titleFont":"Liberation Sans","titleFontSize":15,"titleFontWeight":"bold","titleColor":"#000","titleY":-12,"titleBaseline":"alphabetic"
}}
},
"layer":[
{"data":{"name":"gps"},
"mark":{"type":"line","strokeWidth":2.8,"clip":true},
"encoding":{
"y":{"field":"v","type":"quantitative","scale":{"domain":[-30,40],"nice":false,"zero":false},
"axis":{"orient":"left","values":[-30,-20,-10,0,10,20,30,40],"labelExpr":"datum.value < 0 ? '-' + abs(datum.value) : '' + datum.value","grid":true,"gridColor":"#808080","gridWidth":1,"domainColor":"#000","domainWidth":1.5,"tickColor":"#000","tickSize":6,"labelFont":"Liberation Sans","labelFontSize":15,"labelColor":"#000","labelPadding":4,
"title":"GPS mm","titleFont":"Liberation Sans","titleFontSize":15,"titleFontWeight":"bold","titleColor":"#000","titleX":-62,"titleY":343,"titleAngle":270,"titleBaseline":"middle","titleAlign":"center"}},
"color":{"datum":"GPS","type":"nominal","scale":{"domain":["GPS","Assestimetro 40.3m","50 Perc. Media Mobile (GPS)"],"range":["#ff00ff","#000080","#000000"]},
"legend":{"orient":"none","legendX":240,"legendY":-53,"direction":"horizontal","columns":3,"title":null,"symbolType":"stroke","symbolStrokeWidth":3,"symbolSize":1156,"labelFont":"Liberation Sans","labelFontSize":15,"labelColor":"#000","labelLimit":400,"strokeColor":"#d9d9d9","fillColor":"#ffffff","padding":4,"columnPadding":18,"labelOffset":2}}
}},
{"data":{"name":"ass"},
"mark":{"type":"line","strokeWidth":2.8,"clip":true},
"encoding":{
"y":{"field":"a","type":"quantitative","scale":{"domain":[-2,1.5],"reverse":true,"nice":false,"zero":false},
"axis":{"orient":"right","values":[-2,-1.5,-1,-0.5,0,0.5,1,1.5],"labelExpr":"(datum.value < 0 ? '-' : '') + format(abs(datum.value), '.2f')","grid":false,"domainColor":"#000","domainWidth":1.5,"tickColor":"#000","tickSize":6,"labelFont":"Liberation Sans","labelFontSize":15,"labelColor":"#000","labelPadding":12,
"title":"Assestimetro mm","titleFont":"Liberation Sans","titleFontSize":15,"titleFontWeight":"bold","titleColor":"#000","titleX":70,"titleY":305,"titleAngle":270,"titleBaseline":"middle","titleAlign":"center"}},
"color":{"datum":"Assestimetro 40.3m","type":"nominal","scale":{"domain":["GPS","Assestimetro 40.3m","50 Perc. Media Mobile (GPS)"],"range":["#ff00ff","#000080","#000000"]}}
}},
{"data":{"name":"ma"},
"mark":{"type":"line","strokeWidth":3,"clip":true},
"encoding":{
"y":{"field":"v","type":"quantitative","scale":{"domain":[-30,40],"nice":false,"zero":false},"axis":null},
"color":{"datum":"50 Perc. Media Mobile (GPS)","type":"nominal","scale":{"domain":["GPS","Assestimetro 40.3m","50 Perc. Media Mobile (GPS)"],"range":["#ff00ff","#000080","#000000"]}}
}}
],
"resolve":{"scale":{"y":"independent"}},
"config":{"view":{"stroke":null},"font":"Liberation Sans"}
}
